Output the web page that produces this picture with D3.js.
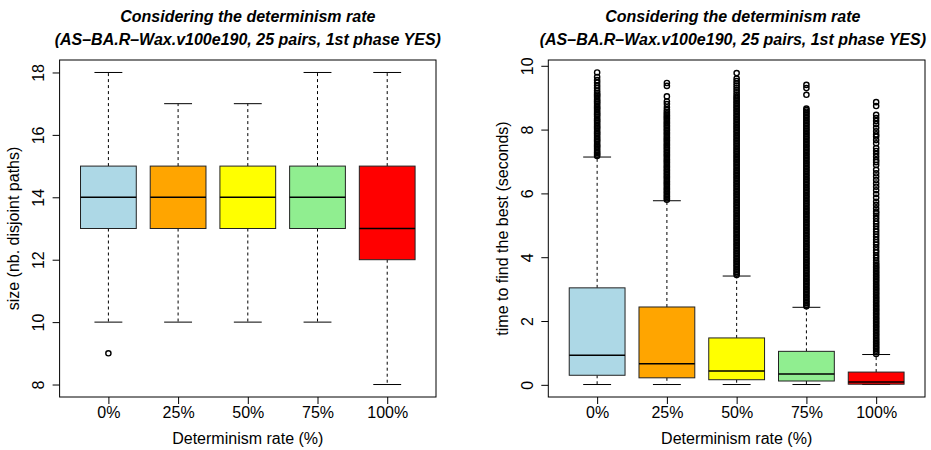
<!DOCTYPE html>
<html>
<head>
<meta charset="utf-8">
<script src="https://d3js.org/d3.v7.min.js"></script>
<style>
	body{margin:0;background:white;}
	svg{display:block;font-family:"Liberation Sans",Arial,sans-serif;}
</style>
</head>
<body>
<div id="chart"></div>
<script>
// categories (x axis)
let categories=["0%","25%","50%","75%","100%"]

// left plot : size (nb. disjoint paths)
let sizeLow=[10,10,10,10,8]
let sizeQ1=[13,13,13,13,12]
let sizeMedian=[14,14,14,14,13]
let sizeQ3=[15,15,15,15,15]
let sizeHigh=[18,17,17,18,18]
let sizeOutliers=[[9],[],[],[],[]]
let sizeTicks=[8,10,12,14,16,18]

// right plot : time to find the best (seconds)
let timeLow=[0.01,0.01,0.01,0.01,0.01]
let timeQ1=[0.30,0.22,0.16,0.12,0.02]
let timeMedian=[0.93,0.66,0.43,0.34,0.09]
let timeQ3=[3.04,2.44,1.47,1.05,0.40]
let timeHigh=[7.14,5.77,3.41,2.43,0.95]
let timeTicks=[0,2,4,6,8,10]
let time0Outliers=[7.17,7.21,7.26,7.30,7.35,7.41,7.46,7.50,7.55,7.61,7.66,7.70,7.75,7.81,7.86,7.90,7.95,8.01,8.06,8.10,8.15,8.21,8.26,8.30,8.35,8.41,8.46,8.50,8.55,8.61,8.66,8.70,8.75,8.81,8.86,8.90,8.95,9.01,9.06,9.10,9.15,9.22,9.30,9.38,9.47,9.55,9.65,9.79]
let time25Outliers=[5.80,5.84,5.89,5.93,5.98,6.03,6.07,6.12,6.16,6.21,6.26,6.30,6.35,6.39,6.44,6.49,6.53,6.58,6.62,6.67,6.72,6.76,6.81,6.85,6.90,6.95,6.99,7.04,7.08,7.13,7.18,7.22,7.27,7.31,7.36,7.41,7.45,7.50,7.54,7.59,7.64,7.68,7.73,7.77,7.82,7.87,7.91,7.96,8.00,8.05,8.10,8.14,8.19,8.23,8.28,8.33,8.37,8.42,8.46,8.51,8.56,8.62,8.70,8.80,8.88,9.04,9.37,9.46]
let time50Outliers=[3.44,3.49,3.54,3.59,3.64,3.69,3.74,3.79,3.84,3.89,3.94,3.99,4.04,4.09,4.14,4.19,4.24,4.29,4.34,4.39,4.44,4.49,4.54,4.59,4.64,4.69,4.74,4.79,4.84,4.89,4.94,4.99,5.04,5.09,5.14,5.19,5.24,5.29,5.34,5.39,5.44,5.49,5.54,5.59,5.64,5.69,5.74,5.79,5.84,5.89,5.94,5.99,6.04,6.09,6.14,6.19,6.24,6.29,6.34,6.39,6.44,6.49,6.54,6.59,6.64,6.69,6.74,6.79,6.84,6.89,6.94,6.99,7.04,7.09,7.14,7.19,7.24,7.29,7.34,7.39,7.44,7.49,7.54,7.59,7.64,7.69,7.74,7.79,7.84,7.89,7.94,7.99,8.04,8.09,8.14,8.19,8.24,8.29,8.34,8.39,8.44,8.49,8.54,8.59,8.64,8.69,8.74,8.79,8.84,8.89,8.94,8.99,9.04,9.10,9.17,9.24,9.31,9.38,9.45,9.52,9.60,9.77]
let time75Outliers=[2.46,2.51,2.56,2.61,2.66,2.71,2.76,2.81,2.86,2.91,2.96,3.01,3.06,3.11,3.16,3.21,3.26,3.31,3.36,3.41,3.46,3.51,3.56,3.61,3.66,3.71,3.76,3.81,3.86,3.91,3.96,4.01,4.06,4.11,4.16,4.21,4.26,4.31,4.36,4.41,4.46,4.51,4.56,4.61,4.66,4.71,4.76,4.81,4.86,4.91,4.96,5.01,5.06,5.11,5.16,5.21,5.26,5.31,5.36,5.41,5.46,5.51,5.56,5.61,5.66,5.71,5.76,5.81,5.86,5.91,5.96,6.01,6.06,6.11,6.16,6.21,6.26,6.31,6.36,6.41,6.46,6.51,6.56,6.61,6.66,6.71,6.76,6.81,6.86,6.91,6.96,7.01,7.06,7.11,7.16,7.21,7.26,7.31,7.36,7.41,7.46,7.51,7.56,7.61,7.66,7.71,7.76,7.81,7.86,7.91,7.96,8.01,8.06,8.11,8.16,8.21,8.26,8.31,8.36,8.41,8.46,8.51,8.56,8.61,8.66,9.09,9.30,9.40]
let time100Outliers=[0.97,1.02,1.07,1.12,1.17,1.22,1.27,1.32,1.37,1.42,1.47,1.52,1.57,1.62,1.67,1.72,1.77,1.82,1.87,1.92,1.97,2.02,2.07,2.12,2.17,2.22,2.27,2.32,2.37,2.42,2.47,2.52,2.57,2.62,2.67,2.72,2.77,2.82,2.87,2.92,2.97,3.02,3.07,3.12,3.17,3.22,3.27,3.32,3.37,3.42,3.47,3.52,3.57,3.62,3.67,3.72,3.77,3.83,3.90,3.98,4.06,4.15,4.22,4.31,4.40,4.47,4.55,4.64,4.72,4.80,4.88,4.97,5.05,5.12,5.21,5.30,5.38,5.43,5.53,5.64,5.74,5.86,5.98,6.10,6.21,6.31,6.42,6.53,6.63,6.74,6.89,6.98,7.05,7.15,7.24,7.33,7.42,7.57,7.67,7.78,7.85,7.95,8.06,8.17,8.27,8.36,8.46,8.74,8.86]
let timeOutliers=[time0Outliers,time25Outliers,time50Outliers,time75Outliers,time100Outliers]

let boxColors=["#ADD8E6","#FFA500","#FFFF00","#90EE90","#FF0000"]
let titleLine1="Considering the determinism rate"
let titleLine2="(AS\u2013BA.R\u2013Wax.v100e190, 25 pairs, 1st phase YES)"
let xLabel="Determinism rate (%)"

let width=931
let height=450
let svg=d3.select("#chart").append("svg")
	.attr("width",width)
	.attr("height",height)

// draws one R-like boxplot panel
function drawPanel(p)
{
	let n=categories.length
	let all=p.low.concat(p.high)
	p.outliers.forEach(o=>{all=all.concat(o)})
	let mn=d3.min(all)
	let mx=d3.max(all)
	let ext=(mx-mn)*0.04

	let x=d3.scaleLinear().domain([0.5-0.04*n,n+0.5+0.04*n]).range([p.left,p.right])
	let y=d3.scaleLinear().domain([mn-ext,mx+ext]).range([p.bottom,p.top])
	let unit=x(1)-x(0)
	let g=svg.append("g")

	// titles (kept inside the window)
	let cx=(p.left+p.right)/2
	let titles=g.selectAll(null).data([titleLine1,titleLine2]).enter().append("text")
		.attr("x",cx).attr("y",(d,i)=>i==0?21.5:44.5).attr("text-anchor","middle")
		.style("font-size","16px").style("font-weight","bold").style("font-style","italic")
		.text(d=>d)
	let wmax=0
	titles.each(function(){wmax=Math.max(wmax,this.getComputedTextLength())})
	if(cx+wmax/2>width-5)
	{
		titles.attr("x",width-5-wmax/2)
	}

	for(let i=0;i<n;++i)
	{
		let xc=x(i+1)
		// whiskers
		g.append("line").attr("x1",xc).attr("x2",xc).attr("y1",y(p.q3[i])).attr("y2",y(p.high[i]))
			.attr("stroke","black").attr("stroke-dasharray","3,3")
		g.append("line").attr("x1",xc).attr("x2",xc).attr("y1",y(p.q1[i])).attr("y2",y(p.low[i]))
			.attr("stroke","black").attr("stroke-dasharray","3,3")
		// staples
		g.append("line").attr("x1",xc-0.2*unit).attr("x2",xc+0.2*unit).attr("y1",y(p.high[i])).attr("y2",y(p.high[i]))
			.attr("stroke","black")
		g.append("line").attr("x1",xc-0.2*unit).attr("x2",xc+0.2*unit).attr("y1",y(p.low[i])).attr("y2",y(p.low[i]))
			.attr("stroke","black")
		// box
		g.append("rect").attr("x",xc-0.4*unit).attr("width",0.8*unit)
			.attr("y",y(p.q3[i])).attr("height",y(p.q1[i])-y(p.q3[i]))
			.attr("fill",boxColors[i]).attr("stroke","#222").attr("stroke-width",1)
		g.append("line").attr("x1",xc-0.4*unit).attr("x2",xc+0.4*unit).attr("y1",y(p.median[i])).attr("y2",y(p.median[i]))
			.attr("stroke","black").attr("stroke-width",1.5)
		// outliers
		g.selectAll(null).data(p.outliers[i]).enter().append("circle")
			.attr("cx",xc).attr("cy",d=>y(d)).attr("r",2.6)
			.attr("fill","none").attr("stroke","black").attr("stroke-width",1.4)
	}

	// frame
	g.append("rect").attr("x",p.left).attr("y",p.top).attr("width",p.right-p.left).attr("height",p.bottom-p.top)
		.attr("fill","none").attr("stroke","black")

	// x axis
	let xa=g.append("g").attr("transform","translate(0,"+p.bottom+")")
		.call(d3.axisBottom(x).tickValues(d3.range(1,n+1)).tickFormat((d)=>categories[d-1]).tickSize(7).tickSizeOuter(0))
	xa.select(".domain").remove()
	xa.selectAll("text").attr("y",21).attr("dy",0).style("font-size","16px").attr("fill","black")

	// y axis
	let ya=g.append("g").attr("transform","translate("+p.left+",0)")
		.call(d3.axisLeft(y).tickValues(p.ticks).tickSize(7).tickSizeOuter(0))
	ya.select(".domain").remove()
	ya.selectAll("text").attr("x",0).attr("dy",0).attr("y",-15.5)
		.attr("text-anchor","middle").attr("transform","rotate(-90)")
		.style("font-size","16px").attr("fill","black")

	g.append("text").attr("x",cx).attr("y",444).attr("text-anchor","middle")
		.style("font-size","16px").text(xLabel)
	g.append("text").attr("transform","translate("+(p.left-40.5)+","+((p.top+p.bottom)/2)+") rotate(-90)")
		.attr("text-anchor","middle").style("font-size","16px").text(p.ylabel)
}

drawPanel({left:59.6,right:436,top:60,bottom:397,
	low:sizeLow,q1:sizeQ1,median:sizeMedian,q3:sizeQ3,high:sizeHigh,outliers:sizeOutliers,
	ticks:sizeTicks,ylabel:"size (nb. disjoint paths)"})

drawPanel({left:548.3,right:925,top:60,bottom:397,
	low:timeLow,q1:timeQ1,median:timeMedian,q3:timeQ3,high:timeHigh,outliers:timeOutliers,
	ticks:timeTicks,ylabel:"time to find the best (seconds)"})
</script>
</body>
</html>
